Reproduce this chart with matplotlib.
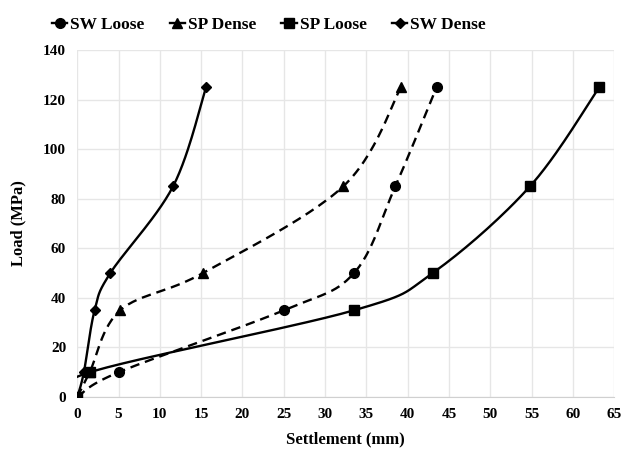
import numpy as np
import matplotlib
matplotlib.use("Agg")
import matplotlib.pyplot as plt
from matplotlib.lines import Line2D

plt.rcParams['font.family'] = ['Liberation Serif', 'DejaVu Serif']
plt.rcParams['font.weight'] = 'bold'

sw_loose_x = [0, 5, 25, 33.5, 38.5, 43.5]
sw_loose_y = [0, 10, 35, 50, 85, 125]
sp_dense_x = [0, 1.5, 5.2, 15.2, 32.2, 39.2]
sp_dense_y = [0, 10, 35, 50, 85, 125]
sp_loose_x = [0, 1.5, 33.5, 43, 54.8, 63.2]
sp_loose_y = [0, 10, 35, 50, 85, 125]
sw_dense_x = [0, 0.8, 2.1, 4.0, 11.6, 15.6]
sw_dense_y = [0, 10, 35, 50, 85, 125]

series = [
    ("SW Loose", sw_loose_x, sw_loose_y, 'o', (0, (4, 2.5)), 7),
    ("SP Dense", sp_dense_x, sp_dense_y, '^', (0, (4, 2.5)), 7),
    ("SP Loose", sp_loose_x, sp_loose_y, 's', '-', 7),
    ("SW Dense", sw_dense_x, sw_dense_y, 'D', '-', 5.5),
]


def smooth(x, y, n=30, t=0.5):
    # Catmull-Rom style curve through the data points (Excel smoothed line)
    x = np.asarray(x, float); y = np.asarray(y, float)
    px = np.concatenate([[x[0]], x, [x[-1]]])
    py = np.concatenate([[y[0]], y, [y[-1]]])
    xs, ys = [], []
    for i in range(1, len(px) - 2):
        p0 = np.array([px[i-1], py[i-1]]); p1 = np.array([px[i], py[i]])
        p2 = np.array([px[i+1], py[i+1]]); p3 = np.array([px[i+2], py[i+2]])
        c1 = p1 + (p2 - p0) * t / 3
        c2 = p2 - (p3 - p1) * t / 3
        s = np.linspace(0, 1, n)[:, None]
        b = ((1-s)**3)*p1 + 3*((1-s)**2)*s*c1 + 3*(1-s)*s**2*c2 + s**3*p2
        xs.extend(b[:, 0]); ys.extend(b[:, 1])
    return xs, ys


fig = plt.figure(figsize=(6.23, 4.58), dpi=100)
ax = fig.add_axes([0.124, 0.133, 0.862, 0.758])

handles = []
for name, xs, ys, m, ls, ms in series:
    sx, sy = smooth(xs, ys)
    ax.plot(sx, sy, color='black', lw=1.7, linestyle=ls, zorder=3)
    ax.plot(xs, ys, linestyle='none', marker=m, color='black', ms=ms, zorder=4)
    handles.append(Line2D([], [], color='black', lw=1.7, marker=m, ms=ms, label=name))

ax.set_xlim(0, 65)
ax.set_ylim(0, 140)
ax.set_xticks(np.arange(0, 66, 5))
ax.set_yticks(np.arange(0, 141, 20))
ax.grid(True, color='#e6e6e6', lw=1)
ax.set_axisbelow(True)
for s in ['top', 'right', 'left']:
    ax.spines[s].set_visible(False)
ax.spines['bottom'].set_color('#d0d0d0')
ax.tick_params(length=0, labelsize=11, pad=8)
for lab in ax.get_xticklabels() + ax.get_yticklabels():
    lab.set_fontweight('bold')

ax.set_xlabel("Settlement (mm)", fontsize=12, fontweight='bold', labelpad=7)
ax.set_ylabel("Load (MPa)", fontsize=12, fontweight='bold', labelpad=12)

fig.legend(handles=handles, loc='upper left', bbox_to_anchor=(0.058, 0.998), ncol=4,
           frameon=False, prop={'weight': 'bold', 'size': 12.5}, handlelength=0.9,
           handletextpad=0.15, columnspacing=1.45)

fig.savefig("out.png", dpi=100)
